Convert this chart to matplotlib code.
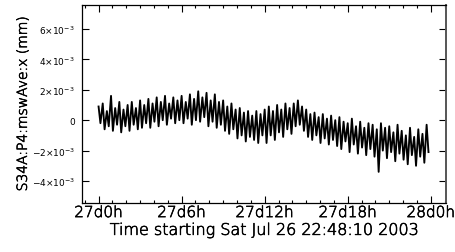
import numpy as np
import matplotlib
matplotlib.use("Agg")
import matplotlib.pyplot as plt
import matplotlib.patheffects as pe
from matplotlib.ticker import MultipleLocator, FixedLocator, FuncFormatter

# Peak / trough values of each oscillation cycle (units of 1e-3 mm)
hi = [0.9, 1.1, 0.6, 1.6, 0.8, 1.2, 0.7, 1.0, 1.2, 0.8,
      1.3, 1.0, 1.4, 1.1, 1.5, 1.2, 1.6, 1.1, 1.5, 1.3,
      1.6, 1.2, 1.7, 1.4, 1.9, 1.5, 1.8, 1.3, 1.7, 1.2,
      1.3, 0.9, 1.1, 0.7, 0.8, 0.5, 0.6, 0.3, 0.6, 0.4,
      0.7, 0.9, 0.6, 1.0, 0.7, 1.1, 0.8, 1.1, 1.3, 0.9,
      0.7, 0.4, 0.5, 0.2, 0.4, 0.1, 0.3, 0.0, 0.2, -0.1,
      -0.2, 0.1, -0.4, -0.1, -0.5, -0.2, -0.3, -0.6, -0.2, -0.5,
      -0.4, -0.8, -0.3, -0.7, -1.0, -0.5, -1.1, -0.6, -0.9, -0.3]
lo = [-0.2, -0.6, -0.4, -0.7, -0.3, -0.8, -0.4, -0.7, -0.3, -0.6,
      -0.5, -0.2, -0.5, -0.1, -0.4, 0.0, -0.3, 0.1, -0.2, 0.0,
      -0.2, 0.1, -0.3, 0.0, -0.1, 0.2, -0.4, -0.1, -0.5, -0.3,
      -0.7, -0.9, -0.6, -1.2, -1.0, -1.4, -1.1, -1.3, -1.5, -1.0,
      -1.5, -1.0, -1.3, -0.8, -1.1, -0.6, -0.9, -0.4, -0.3, -0.7,
      -1.1, -1.3, -1.0, -1.5, -1.2, -1.6, -1.3, -1.7, -1.9, -1.4,
      -2.1, -1.6, -2.2, -1.8, -2.3, -1.9, -2.4, -3.4, -2.0, -2.5,
      -2.1, -2.7, -2.2, -2.6, -2.9, -2.3, -3.0, -2.4, -2.8, -2.1]
cycle_hours = 0.3          # sampling of the oscillation (hours per cycle)
start_offset = -1.197      # 22:48:10 relative to 27d0h (hours)
x_end = 25.1

tick_hours = [0, 6, 12, 18, 24]
tick_labels = ["27d0h", "27d6h", "27d12h", "27d18h", "28d0h"]
ytick_vals = [-4e-3, -2e-3, 0, 2e-3, 4e-3, 6e-3]

n = len(hi)
t_peak = np.arange(n) * cycle_hours
t = np.empty(2 * n)
v = np.empty(2 * n)
t[0::2] = t_peak
t[1::2] = t_peak + cycle_hours * 0.45
v[0::2] = np.array(hi) * 1e-3
v[1::2] = np.array(lo) * 1e-3

fig = plt.figure(figsize=(4.56, 2.53), dpi=100)
ax = fig.add_axes([82 / 456, 1 - 204 / 253, (446 - 82) / 456, (204 - 6) / 253])
ax.plot(t, v, color="black", lw=1.35)

ax.set_xlim(start_offset, x_end)
ax.set_ylim(-5.45e-3, 7.58e-3)

ax.xaxis.set_major_locator(FixedLocator(tick_hours))
ax.set_xticklabels(tick_labels)
ax.xaxis.set_minor_locator(MultipleLocator(1))
ax.yaxis.set_major_locator(FixedLocator(ytick_vals))


def yfmt(val, pos):
    k = int(round(val * 1e3))
    if k == 0:
        return "0"
    return r"$%d{\times}10^{-3}$" % k


ax.yaxis.set_major_formatter(FuncFormatter(yfmt))
ax.tick_params(which="both", direction="in", top=True, right=True, color="black")
ax.tick_params(which="major", length=5, width=0.8)
ax.tick_params(which="minor", length=2.5, width=0.8)
ax.tick_params(axis="x", labelsize=11, pad=1.5, labelcolor="black")
ax.tick_params(axis="y", labelsize=6.5, pad=5)
for s in ax.spines.values():
    s.set_linewidth(0.9)
    s.set_color("black")
ax.spines["right"].set_color("#555555")
ax.spines["right"].set_linewidth(1.4)

stroke = [pe.withStroke(linewidth=0.45, foreground="black")]
for lab in ax.get_xticklabels():
    lab.set_fontweight("light")
    lab.set_path_effects(stroke)

ax.set_xlabel("Time starting Sat Jul 26 22:48:10 2003", fontsize=11.5,
              fontweight="light", labelpad=2, color="black", path_effects=stroke)
ax.set_ylabel("S34A:P4:mswAve:x (mm)", fontsize=10, fontweight="light",
              labelpad=1.5, color="black", path_effects=stroke)

fig.savefig("out.png", dpi=100)
